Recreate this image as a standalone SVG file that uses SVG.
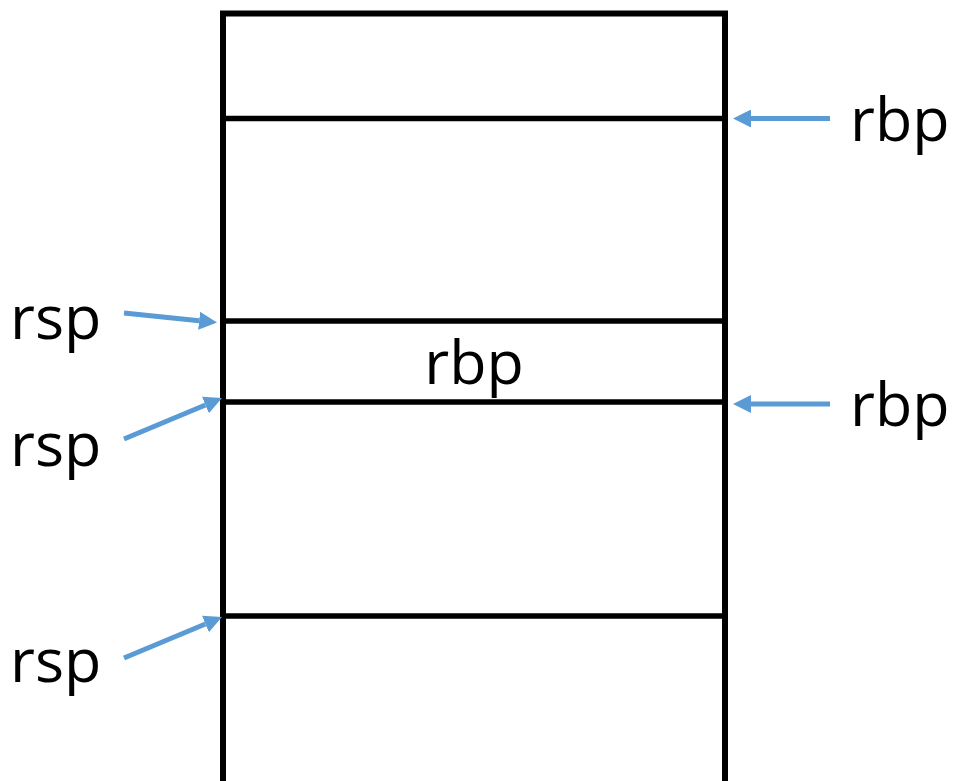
<svg xmlns="http://www.w3.org/2000/svg" width="955" height="781" viewBox="0 0 955 781">
  <style>
    .box { fill: none; stroke: #000; stroke-width: 6; }
    .div { stroke: #000; stroke-width: 5.5; }
    .arr { stroke: #5B9BD5; stroke-width: 5; fill: none; marker-end: url(#head); }
    .lbl { font-family: "Open Sans", "Liberation Sans", Arial, sans-serif; font-size: 61px; fill: #000; }
  </style>
  <defs>
    <marker id="head" markerUnits="userSpaceOnUse" viewBox="0 0 18 18" refX="0" refY="9" markerWidth="18" markerHeight="18" orient="auto">
      <path d="M0,0 L18,9 L0,18 z" fill="#5B9BD5"/>
    </marker>
  </defs>
  <g id="stack">
    <path class="box" d="M223,784 V13.5 H725 V784"/>
    <line class="div" x1="223" y1="118.5" x2="725" y2="118.5"/>
    <line class="div" x1="223" y1="321" x2="725" y2="321"/>
    <line class="div" x1="223" y1="402" x2="725" y2="402"/>
    <line class="div" x1="223" y1="616" x2="725" y2="616"/>
    <text class="lbl" x="474" y="384" text-anchor="middle">rbp</text>
  </g>
  <g id="labels">
    <text id="rbp1" class="lbl" x="850" y="141">rbp</text>
    <text id="rbp2" class="lbl" x="850" y="426">rbp</text>
    <text id="rsp1" class="lbl" x="10" y="339">rsp</text>
    <text id="rsp2" class="lbl" x="10" y="466">rsp</text>
    <text id="rsp3" class="lbl" x="10" y="682">rsp</text>
  </g>
  <g id="connectors">
    <line class="arr" x1="830" y1="118.5" x2="751" y2="118.5"/>
    <line class="arr" x1="830" y1="404" x2="751" y2="404"/>
    <line class="arr" x1="124" y1="313" x2="199.1" y2="320.7"/>
    <line class="arr" x1="124" y1="439" x2="205.4" y2="405"/>
    <line class="arr" x1="124" y1="658" x2="205.4" y2="624"/>
  </g>
</svg>
